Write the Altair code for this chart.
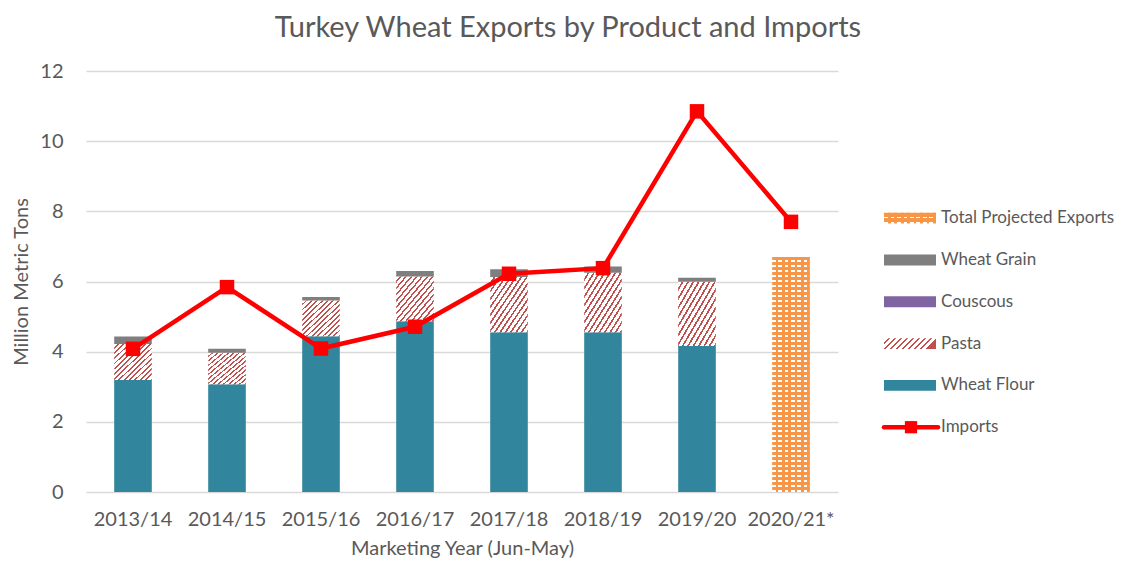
import altair as alt
import pandas as pd

# ---------------- data ----------------
years = ["2013/14", "2014/15", "2015/16", "2016/17", "2017/18", "2018/19", "2019/20", "2020/21*"]
wheat_flour = [3.19, 3.07, 4.44, 4.87, 4.55, 4.55, 4.16]
pasta = [1.03, 0.90, 1.02, 1.27, 1.58, 1.70, 1.83]
couscous = [0.0, 0.0, 0.0, 0.0, 0.0, 0.0, 0.0]
wheat_grain = [0.21, 0.11, 0.10, 0.16, 0.22, 0.18, 0.12]
projected_total = 6.70  # 2020/21*
imports = [4.08, 5.84, 4.09, 4.71, 6.22, 6.38, 10.85, 7.70]

legend_labels = ["Total Projected Exports", "Wheat Grain", "Couscous", "Pasta", "Wheat Flour", "Imports"]

# ---------------- styling ----------------
TEAL = "#31859c"
GRAY = "#7f7f7f"
PURPLE = "#8064a2"
PASTA_RED = "#c0504d"
ORANGE = "#f79646"
TXT = "#595959"
FONT = "Lato"


def stripes(c_bg, c_line, n, frac, x1, y1, x2, y2):
    stops = []
    for k in range(n):
        a = k / n
        b = (k + 1 - frac) / n
        c = (k + 1) / n
        stops += [
            {"offset": a, "color": c_bg},
            {"offset": b, "color": c_bg},
            {"offset": b, "color": c_line},
            {"offset": c, "color": c_line},
        ]
    return {"gradient": "linear", "x1": x1, "y1": y1, "x2": x2, "y2": y2, "stops": stops}


TRANSP = "rgba(255,255,255,0)"
pasta_fill = stripes("#ffffff", PASTA_RED, 14, 0.35, 0, 0, 1, 1)
orange_rows = stripes(ORANGE, "#ffffff", 47, 0.3, 0, 0, 0, 1)
orange_cols = stripes(TRANSP, ORANGE, 6, 0.4, 0, 0, 1, 0)

leg_pasta = stripes("#ffffff", PASTA_RED, 9, 0.35, 0, 0, 1, 0.21)
leg_orange_rows = stripes(ORANGE, "#ffffff", 2, 0.3, 0, 0, 0, 1)
leg_orange_cols = stripes(TRANSP, ORANGE, 8, 0.4, 0, 0, 1, 0)

# ---------------- tables ----------------
rows = []
for i, yr in enumerate(years[:7]):
    base = 0.0
    for name, arr in [("Wheat Flour", wheat_flour), ("Pasta", pasta),
                      ("Couscous", couscous), ("Wheat Grain", wheat_grain)]:
        rows.append({"year": yr, "series": name, "y0": base, "y1": base + arr[i]})
        base += arr[i]
rows.append({"year": years[7], "series": "Total Projected Exports", "y0": 0.0, "y1": projected_total})
bars = pd.DataFrame(rows)
imp = pd.DataFrame({"year": years, "imports": imports})

x_enc = alt.X(
    "year:N", sort=years,
    scale=alt.Scale(paddingInner=0.6, paddingOuter=0.3),
    axis=alt.Axis(title="Marketing Year (Jun-May)", labelAngle=0, labelPadding=17, titlePadding=9),
)
y_scale = alt.Scale(domain=[0, 12], nice=False)
y_enc = alt.Y(
    "y0:Q", scale=y_scale,
    axis=alt.Axis(title="Million Metric Tons", values=[0, 2, 4, 6, 8, 10, 12],
                  grid=True, labelPadding=23, titlePadding=8),
)

base = alt.Chart(bars)


def seg(name, **mark):
    return base.transform_filter(alt.datum.series == name).mark_bar(**mark).encode(
        x=x_enc, y=y_enc, y2="y1:Q")


flour_l = seg("Wheat Flour", fill=TEAL)
pasta_l = seg("Pasta", fill=pasta_fill)
cous_l = seg("Couscous", fill=PURPLE)
grain_l = seg("Wheat Grain", fill=GRAY)
proj_a = seg("Total Projected Exports", fill=orange_rows)
proj_b = seg("Total Projected Exports", fill=orange_cols)

line = alt.Chart(imp).mark_line(color="#ff0000", strokeWidth=4.5).encode(
    x=alt.X("year:N", sort=years), y=alt.Y("imports:Q", scale=y_scale))
pts = alt.Chart(imp).mark_point(shape="square", filled=True, size=210, color="#ff0000", opacity=1).encode(
    x=alt.X("year:N", sort=years), y=alt.Y("imports:Q", scale=y_scale))

main = alt.layer(flour_l, pasta_l, cous_l, grain_l, proj_a, proj_b, line, pts).properties(
    width=752, height=421)

# ---------------- legend panel ----------------
legdf = pd.DataFrame({"label": legend_labels, "pos": [5, 4, 3, 2, 1, 0]})
lscale = alt.Scale(domain=[-1.55, 8.52], nice=False, zero=False)
lb = alt.Chart(legdf).transform_calculate(lo="datum.pos - 0.13", hi="datum.pos + 0.13")


def sw(name, fill):
    return lb.transform_filter(alt.datum.label == name).mark_rect(fill=fill).encode(
        x=alt.value(0), x2=alt.value(52),
        y=alt.Y("lo:Q", scale=lscale, axis=None), y2="hi:Q")


leg_layers = [
    sw("Total Projected Exports", leg_orange_rows),
    sw("Total Projected Exports", leg_orange_cols),
    sw("Wheat Grain", GRAY),
    sw("Couscous", PURPLE),
    sw("Pasta", leg_pasta),
    sw("Wheat Flour", TEAL),
    lb.transform_filter(alt.datum.label == "Imports").mark_rule(
        color="#ff0000", strokeWidth=4.5, strokeCap="round").encode(
        x=alt.value(0), x2=alt.value(54), y=alt.Y("pos:Q", scale=lscale, axis=None)),
    lb.transform_filter(alt.datum.label == "Imports").mark_point(
        shape="square", filled=True, size=150, color="#ff0000", opacity=1).encode(
        x=alt.value(27), y=alt.Y("pos:Q", scale=lscale, axis=None)),
    lb.mark_text(align="left", baseline="middle", font=FONT, fontSize=17, color=TXT).encode(
        x=alt.value(57), y=alt.Y("pos:Q", scale=lscale, axis=None), text="label:N"),
]
legend = alt.layer(*leg_layers).properties(width=240, height=421)

chart = alt.hconcat(main, legend, spacing=43).properties(
    background="white",
    padding={"left": 3, "top": 6, "right": 5, "bottom": 5},
    title=alt.TitleParams("Turkey Wheat Exports by Product and Imports", anchor="middle",
                          font=FONT, fontSize=29, fontWeight="normal", color=TXT, offset=18)
).configure_view(stroke=None).configure_axis(
    labelFont=FONT, labelFontSize=20, labelColor=TXT,
    titleFont=FONT, titleFontSize=20, titleColor=TXT, titleFontWeight="normal",
    ticks=False, domain=False, gridColor="#d9d9d9", gridWidth=1.5,
).configure_axisX(grid=False)

chart.save("out.html", embed_options={"renderer": "svg", "actions": False})
